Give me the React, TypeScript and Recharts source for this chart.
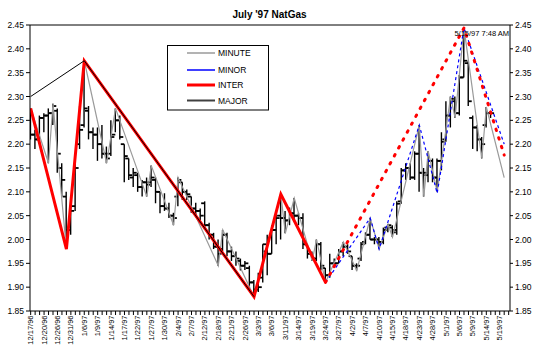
import React from 'react';
import { ComposedChart, Bar, Line, XAxis, YAxis, ReferenceLine } from 'recharts';

// trading days shown on the category axis (index = day number)
const tradingDates = [
  '12/17/96','12/18/96','12/19/96','12/20/96','12/23/96','12/24/96','12/26/96','12/27/96','12/30/96','12/31/96',
  '1/2/97','1/3/97','1/6/97','1/7/97','1/8/97','1/9/97','1/10/97','1/13/97','1/14/97','1/15/97',
  '1/16/97','1/17/97','1/20/97','1/21/97','1/22/97','1/23/97','1/24/97','1/27/97','1/28/97','1/29/97',
  '1/30/97','1/31/97','2/3/97','2/4/97','2/5/97','2/6/97','2/7/97','2/10/97','2/11/97','2/12/97',
  '2/13/97','2/14/97','2/18/97','2/19/97','2/20/97','2/21/97','2/24/97','2/25/97','2/26/97','2/27/97',
  '2/28/97','3/3/97','3/4/97','3/5/97','3/6/97','3/7/97','3/10/97','3/11/97','3/12/97','3/13/97',
  '3/14/97','3/17/97','3/18/97','3/19/97','3/20/97','3/21/97','3/24/97','3/25/97','3/26/97','3/27/97',
  '3/31/97','4/1/97','4/2/97','4/3/97','4/4/97','4/7/97','4/8/97','4/9/97','4/10/97','4/11/97',
  '4/14/97','4/15/97','4/16/97','4/17/97','4/18/97','4/21/97','4/22/97','4/23/97','4/24/97','4/25/97',
  '4/28/97','4/29/97','4/30/97','5/1/97','5/2/97','5/5/97','5/6/97','5/7/97','5/8/97','5/9/97',
  '5/12/97','5/13/97','5/14/97','5/15/97','5/16/97','5/19/97','5/20/97','5/21/97',
];

const opens = [
  2.26,2.22,2.21,2.255,2.26,2.265,2.27,2.15,2.09,2.02,
  2.07,2.20,2.24,2.27,2.225,2.22,2.20,2.18,2.18,2.22,
  2.25,2.20,2.17,2.13,2.135,2.11,2.12,2.12,2.125,2.10,
  2.07,2.065,2.05,2.09,2.12,2.10,2.09,2.065,2.06,2.076,
  2.03,2.01,1.985,1.98,2.01,1.975,1.965,1.955,1.945,1.94,
  1.91,1.895,1.92,1.975,1.97,2.02,2.05,2.045,2.04,2.055,
  2.05,2.045,1.99,1.97,1.96,1.99,1.94,1.925,1.95,1.95,
  1.975,1.985,1.965,1.945,1.96,1.995,2.01,2.0,2.0,1.995,
  2.025,2.025,2.02,2.08,2.145,2.15,2.13,2.18,2.14,2.135,
  2.165,2.13,2.165,2.21,2.26,2.29,2.265,2.34,2.37,2.255,
  2.235,2.21,2.24,2.265,
];
const highs = [
  2.275,2.23,2.26,2.265,2.275,2.285,2.275,2.16,2.10,2.08,
  2.17,2.28,2.375,2.28,2.235,2.235,2.24,2.195,2.25,2.275,
  2.26,2.20,2.17,2.15,2.14,2.125,2.13,2.155,2.13,2.10,
  2.097,2.077,2.056,2.13,2.12,2.105,2.09,2.077,2.065,2.08,
  2.035,2.014,2.0,2.02,2.014,1.985,1.975,1.96,1.955,1.945,
  1.915,1.93,1.99,2.01,2.03,2.056,2.095,2.06,2.067,2.087,
  2.056,2.055,1.99,1.975,2.0,1.995,1.94,1.97,1.96,1.98,
  1.995,1.99,1.965,1.95,1.995,2.015,2.045,2.005,2.005,2.025,
  2.032,2.03,2.08,2.15,2.16,2.16,2.185,2.24,2.15,2.185,
  2.17,2.17,2.225,2.29,2.30,2.30,2.345,2.444,2.375,2.26,
  2.24,2.215,2.278,2.27,
];
const lows = [
  2.21,2.19,2.20,2.225,2.16,2.24,2.14,2.09,1.98,2.01,
  2.06,2.19,2.235,2.21,2.19,2.165,2.17,2.16,2.175,2.225,
  2.21,2.12,2.125,2.11,2.10,2.09,2.09,2.11,2.076,2.055,
  2.06,2.045,2.03,2.07,2.083,2.083,2.056,2.05,2.04,2.02,
  2.00,1.98,1.945,1.975,1.965,1.955,1.945,1.935,1.936,1.895,
  1.88,1.89,1.91,1.925,1.97,1.99,2.00,2.013,2.03,2.037,
  2.03,1.98,1.96,1.955,1.955,1.935,1.91,1.92,1.945,1.95,
  1.965,1.97,1.936,1.935,1.955,1.99,2.0,1.99,1.98,1.99,
  2.015,2.005,2.01,2.075,2.125,2.125,2.125,2.10,2.09,2.12,
  2.12,2.10,2.145,2.205,2.235,2.255,2.26,2.34,2.28,2.19,
  2.185,2.17,2.235,2.255,
];
const closes = [
  2.22,2.21,2.255,2.26,2.265,2.28,2.18,2.125,2.02,2.06,
  2.15,2.23,2.275,2.225,2.22,2.20,2.18,2.17,2.215,2.25,
  2.215,2.175,2.135,2.14,2.11,2.12,2.115,2.13,2.10,2.07,
  2.065,2.05,2.045,2.125,2.10,2.095,2.065,2.06,2.05,2.03,
  2.01,1.985,1.97,2.01,1.975,1.965,1.96,1.945,1.95,1.91,
  1.895,1.90,1.99,1.97,2.02,2.045,2.045,2.04,2.055,2.05,
  2.045,1.99,1.97,1.96,1.99,1.945,1.925,1.95,1.95,1.975,
  1.985,1.975,1.945,1.945,1.99,2.01,2.00,2.0,1.995,2.02,
  2.03,2.015,2.075,2.145,2.15,2.13,2.18,2.14,2.14,2.165,
  2.13,2.165,2.205,2.26,2.295,2.265,2.34,2.375,2.29,2.235,
  2.21,2.20,2.265,2.265,
];

// wave counts (pivot day, price)
const minuteDays = [0,4,5,8,12,17,19,26,27,32,33,42,43,50,56,57,59,63,64,66,70,73,76,78,80,81,87,88,89,91,94,95,97,101,102,106];
const minuteVals = [2.275,2.16,2.285,1.98,2.375,2.16,2.275,2.09,2.155,2.03,2.13,1.945,2.02,1.88,2.095,2.013,2.087,1.955,2.0,1.91,1.995,1.935,2.045,1.98,2.032,2.005,2.24,2.09,2.185,2.10,2.30,2.255,2.444,2.17,2.278,2.13];
const interDays = [0,8,12,50,56,66];
const interVals = [2.275,1.98,2.375,1.88,2.095,1.91];
const majorDays = [0,12,50];
const majorVals = [2.30,2.375,1.88];
const minorProjDays = [66,76,78,87,91,97,106];
const minorProjVals = [1.91,2.045,1.98,2.24,2.097,2.444,2.20];
const interProjDays = [66,97,106];
const interProjVals = [1.91,2.444,2.177];

const yTicks = [1.85,1.9,1.95,2.0,2.05,2.1,2.15,2.2,2.25,2.3,2.35,2.4,2.45];

const pick = (days: number[], vals: number[], d: number) => {
  const k = days.indexOf(d);
  return k >= 0 ? vals[k] : null;
};

const data = tradingDates.map((date, d) => {
  const has = d < opens.length;
  return {
    day: d,
    date,
    open: has ? opens[d] : null,
    high: has ? highs[d] : null,
    low: has ? lows[d] : null,
    close: has ? closes[d] : null,
    range: has ? [lows[d], highs[d]] : null,
    minute: pick(minuteDays, minuteVals, d),
    inter: pick(interDays, interVals, d),
    major: pick(majorDays, majorVals, d),
    minorProj: pick(minorProjDays, minorProjVals, d),
    interProj: pick(interProjDays, interProjVals, d),
  };
});

const xTicks = tradingDates.map((_, i) => i);

const OhlcShape = (props: any) => {
  const { x, y, width, height, payload } = props;
  if (!payload || payload.high == null) return <g />;
  const top = Math.min(y, y + height);
  const h = Math.abs(height);
  const cx = x + width / 2;
  const span = payload.high - payload.low;
  const k = span > 0 ? h / span : 0;
  const yO = top + (payload.high - payload.open) * k;
  const yC = top + (payload.high - payload.close) * k;
  return (
    <g stroke="#000">
      <line x1={cx} x2={cx} y1={top} y2={top + h} strokeWidth={1.4} />
      <line x1={cx - 3.5} x2={cx} y1={yO} y2={yO} strokeWidth={1.8} />
      <line x1={cx} x2={cx + 3.5} y1={yC} y2={yC} strokeWidth={1.8} />
    </g>
  );
};

const XTick = (props: any) => {
  const { x, y, payload } = props;
  const i = payload.value;
  if (i % 3 !== 0 || i > 105) return <g />;
  const yy = y - 1.5;
  return (
    <text x={x} y={yy} transform={`rotate(-90 ${x} ${yy})`} textAnchor="end" dominantBaseline="central"
      fontSize={7.5} fill="#000" fontFamily="Arial, 'Liberation Sans', sans-serif">
      {tradingDates[i]}
    </text>
  );
};

const font = "Arial, 'Liberation Sans', sans-serif";

export default function App() {
  return (
    <div style={{ position: 'absolute', left: 0, top: 0, width: 538, height: 355, background: '#fff' }}>
      <ComposedChart width={538} height={355} data={data} margin={{ top: 25, right: 0, bottom: 0, left: 0 }}>
        <XAxis dataKey="day" type="number" domain={[-0.15, 107.3]} allowDataOverflow ticks={xTicks} interval={0}
          tick={<XTick />} tickSize={4} height={44} axisLine={{ stroke: '#000' }} tickLine={{ stroke: '#000' }} />
        <YAxis yAxisId="l" type="number" domain={[1.85, 2.45]} ticks={yTicks} interval={0} width={30} tickSize={4}
          tickFormatter={(v: number) => v.toFixed(2)} axisLine={{ stroke: '#000' }} tickLine={{ stroke: '#000' }}
          tick={{ fontSize: 8.5, fill: '#000', fontFamily: font }} allowDataOverflow />
        <YAxis yAxisId="r" orientation="right" type="number" domain={[1.85, 2.45]} ticks={yTicks} interval={0} width={28} tickSize={3}
          tickFormatter={(v: number) => v.toFixed(2)} axisLine={{ stroke: '#000' }} tickLine={{ stroke: '#000' }}
          tick={{ fontSize: 8.5, fill: '#000', fontFamily: font }} allowDataOverflow />
        <ReferenceLine yAxisId="l" y={2.45} stroke="#000" strokeWidth={1} />
        <Line yAxisId="r" dataKey="close" stroke="none" dot={false} activeDot={false} isAnimationActive={false} />
        <Line yAxisId="l" dataKey="minute" stroke="#9a9a9a" strokeWidth={1.2} dot={false} activeDot={false} connectNulls isAnimationActive={false} />
        <Bar yAxisId="l" dataKey="range" barSize={6} shape={<OhlcShape />} isAnimationActive={false} />
        <Line yAxisId="l" dataKey="inter" stroke="#ff0000" strokeWidth={3} dot={false} activeDot={false} connectNulls isAnimationActive={false} />
        <Line yAxisId="l" dataKey="major" stroke="#000" strokeWidth={1} dot={false} activeDot={false} connectNulls isAnimationActive={false} />
        <Line yAxisId="l" dataKey="minorProj" stroke="#0000ff" strokeWidth={1.2} strokeDasharray="3 3" dot={false} activeDot={false} connectNulls isAnimationActive={false} />
        <Line yAxisId="l" dataKey="interProj" stroke="#ff0000" strokeWidth={3} strokeDasharray="1.5 7.5" strokeLinecap="round" dot={false} activeDot={false} connectNulls isAnimationActive={false} />
      </ComposedChart>
      <svg width={538} height={355} style={{ position: 'absolute', left: 0, top: 0, pointerEvents: 'none' }}>
        <text x={269.5} y={18} textAnchor="middle" fontSize={10} fontWeight="bold" fontFamily={font} fill="#000">July '97 NatGas</text>
        <text x={509} y={36} textAnchor="end" fontSize={7.5} fontFamily={font} fill="#000">5/15/97 7:48 AM</text>
        <g>
          <rect x={167.5} y={45.5} width={101} height={64.5} fill="#fff" stroke="#000" strokeWidth={1} />
          <line x1={187} x2={215} y1={53} y2={53} stroke="#9a9a9a" strokeWidth={1.5} />
          <line x1={187} x2={215} y1={70} y2={70} stroke="#0000ff" strokeWidth={1.5} />
          <line x1={187} x2={215} y1={85} y2={85} stroke="#ff0000" strokeWidth={3} />
          <line x1={187} x2={215} y1={100.5} y2={100.5} stroke="#404040" strokeWidth={2} />
          <text x={218} y={56} fontSize={8.5} fontFamily={font} fill="#000">MINUTE</text>
          <text x={218} y={73} fontSize={8.5} fontFamily={font} fill="#000">MINOR</text>
          <text x={218} y={88} fontSize={8.5} fontFamily={font} fill="#000">INTER</text>
          <text x={218} y={103.5} fontSize={8.5} fontFamily={font} fill="#000">MAJOR</text>
        </g>
      </svg>
    </div>
  );
}
